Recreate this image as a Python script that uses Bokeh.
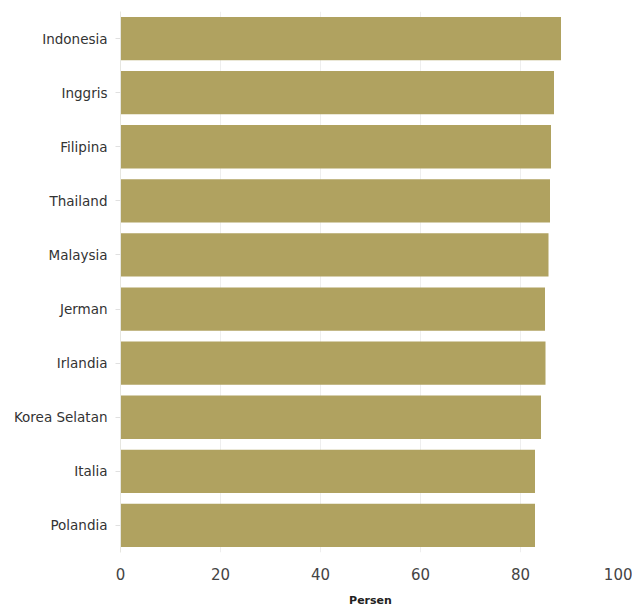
from bokeh.plotting import figure
from bokeh.models import FactorRange, Range1d, FixedTicker
from bokeh.embed import file_html
from bokeh.resources import INLINE

countries = ["Indonesia", "Inggris", "Filipina", "Thailand", "Malaysia",
             "Jerman", "Irlandia", "Korea Selatan", "Italia", "Polandia"]
values = [88.1, 86.7, 86.1, 85.9, 85.6, 84.9, 85.0, 84.1, 82.9, 82.9]
x_ticks = [0, 20, 40, 60, 80, 100]
x_label = "Persen"

factors = list(reversed(countries))

p = figure(y_range=FactorRange(factors=factors, range_padding=0),
           x_range=Range1d(0, 100),
           frame_width=500, frame_height=541,
           min_border_left=120, min_border_right=12, min_border_top=11,
           min_border_bottom=54,
           width=632, height=606,
           output_backend="svg", toolbar_location=None)

p.hbar(y=countries, right=values, left=0, height=0.8,
       fill_color="#b0a260", line_color=None)

p.outline_line_color = None
p.background_fill_color = "white"
p.border_fill_color = "white"

p.ygrid.grid_line_color = None
p.xgrid.grid_line_color = "#eeeeee"
p.xgrid.grid_line_width = 1

p.xaxis.ticker = FixedTicker(ticks=x_ticks)
p.xaxis.axis_line_color = None
p.xaxis.major_tick_line_color = None
p.xaxis.minor_tick_line_color = None
p.xaxis.major_label_text_font = "DejaVu Sans"
p.xaxis.major_label_text_font_size = "15px"
p.xaxis.major_label_text_color = "#444444"
p.xaxis.major_label_standoff = 9
p.xaxis.axis_label = x_label
p.xaxis.axis_label_text_font = "DejaVu Sans"
p.xaxis.axis_label_text_font_size = "11px"
p.xaxis.axis_label_text_font_style = "bold"
p.xaxis.axis_label_text_color = "#222222"
p.xaxis.axis_label_standoff = 11

p.yaxis.axis_line_color = "#e6e6e0"
p.yaxis.axis_line_width = 1
p.yaxis.major_tick_line_color = "#e0e0e0"
p.yaxis.major_tick_out = 5
p.yaxis.major_tick_in = 0
p.yaxis.major_label_standoff = 8
p.yaxis.major_label_text_font = "DejaVu Sans"
p.yaxis.major_label_text_font_size = "13.5px"
p.yaxis.major_label_text_color = "#333333"

open("out.html", "w").write(file_html(p, INLINE))
